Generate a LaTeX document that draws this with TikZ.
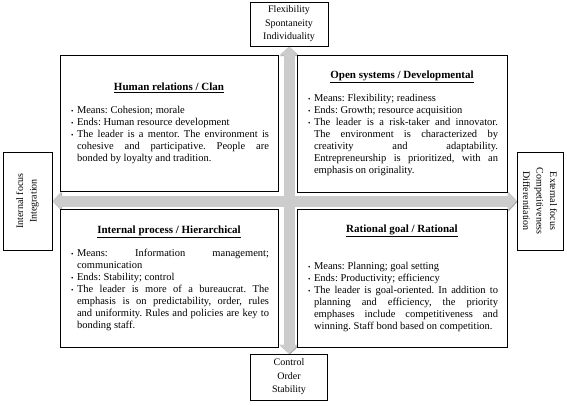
\documentclass[tikz,border=0pt]{standalone}
\usepackage{fontspec}
\setmainfont{Liberation Serif}
\usepackage{enumitem}
\usetikzlibrary{arrows.meta}
\usetikzlibrary{shadows}
\usetikzlibrary{backgrounds}
\setlist[itemize]{nosep,leftmargin=8pt,labelsep=3.5pt,label={\scriptsize\textbullet}}
\newcommand{\quadtitle}[1]{{\centering\fontsize{11}{13}\selectfont\bfseries\underline{#1}\par}}
\tolerance=9999
\hbadness=10000
\frenchspacing

\begin{document}
\begin{tikzpicture}[x=1pt,y=-1pt,
    quad/.style={draw, line width=0.8pt, fill=white, inner xsep=9pt, align=justify,
      font=\fontsize{10.5}{12}\selectfont,
      drop shadow={shadow xshift=1.2pt, shadow yshift=-1.2pt, opacity=0.35}},
    axisbox/.style={draw, line width=0.8pt, fill=white, align=center, inner sep=2pt,
      font=\fontsize{10}{13.5}\selectfont},
    axis/.style={line width=11pt, draw=gray!40,
      {Triangle[length=9pt,width=19pt]}-{Triangle[length=9pt,width=19pt]},
      preaction={draw=gray!70, transform canvas={shift={(0.8pt,-0.8pt)}}}}]

    \useasboundingbox (0,0) rectangle (567,406);

    % axis ends
    \node[axisbox, minimum width=78pt, minimum height=44pt] (flex) at (289,24)
      {Flexibility\\Spontaneity\\Individuality};
    \node[axisbox, minimum width=77pt, minimum height=46pt] (ctrl) at (289,377)
      {Control\\Order\\Stability};
    \node[axisbox, rotate=90, minimum width=98pt, minimum height=49pt] (intl) at (27.5,201)
      {Internal focus\\Integration};
    \node[axisbox, rotate=-90, minimum width=98pt, minimum height=46pt] (extl) at (540,201)
      {External focus\\Competitiveness\\Differentiation};

    % quadrants
    \node[quad, text width=200pt, minimum height=136pt] (hr) at (169,123) {%
      \quadtitle{Human relations / Clan}\vspace{11pt}
      \begin{itemize}
        \item Means: Cohesion; morale
        \item Ends: Human resource development
        \item The leader is a mentor. The environment is\linebreak cohesive and participative. People are\linebreak bonded by loyalty and tradition.
      \end{itemize}};
    \node[quad, text width=192pt, minimum height=137pt] (os) at (402,123.5) {%
      \quadtitle{Open systems / Developmental}\vspace{11pt}
      \begin{itemize}
        \item Means: Flexibility; readiness
        \item Ends: Growth; resource acquisition
        \item The leader is a risk-taker and innovator.\linebreak The environment is characterized by\linebreak creativity and adaptability.\linebreak Entrepreneurship is prioritized, with an\linebreak emphasis on originality.
      \end{itemize}};
    \node[quad, text width=200pt, minimum height=138pt] (ip) at (169,278) {%
      \quadtitle{Internal process / Hierarchical}\vspace{11pt}
      \begin{itemize}
        \item Means: Information management;\linebreak communication
        \item Ends: Stability; control
        \item The leader is more of a bureaucrat. The\linebreak emphasis is on predictability, order, rules\linebreak and uniformity. Rules and policies are key to\linebreak bonding staff.
      \end{itemize}};
    \node[quad, text width=192pt, minimum height=138pt] (rg) at (402,278) {%
      \quadtitle{Rational goal / Rational}\vspace{25pt}
      \begin{itemize}
        \item Means: Planning; goal setting
        \item Ends: Productivity; efficiency
        \item The leader is goal-oriented. In addition to\linebreak planning and efficiency, the priority\linebreak emphases include competitiveness and\linebreak winning. Staff bond based on competition.
      \end{itemize}};

    \begin{scope}[on background layer]
      \draw[axis] (flex) -- (ctrl);
      \draw[axis] (intl) -- (extl);
    \end{scope}

\end{tikzpicture}
\end{document}
